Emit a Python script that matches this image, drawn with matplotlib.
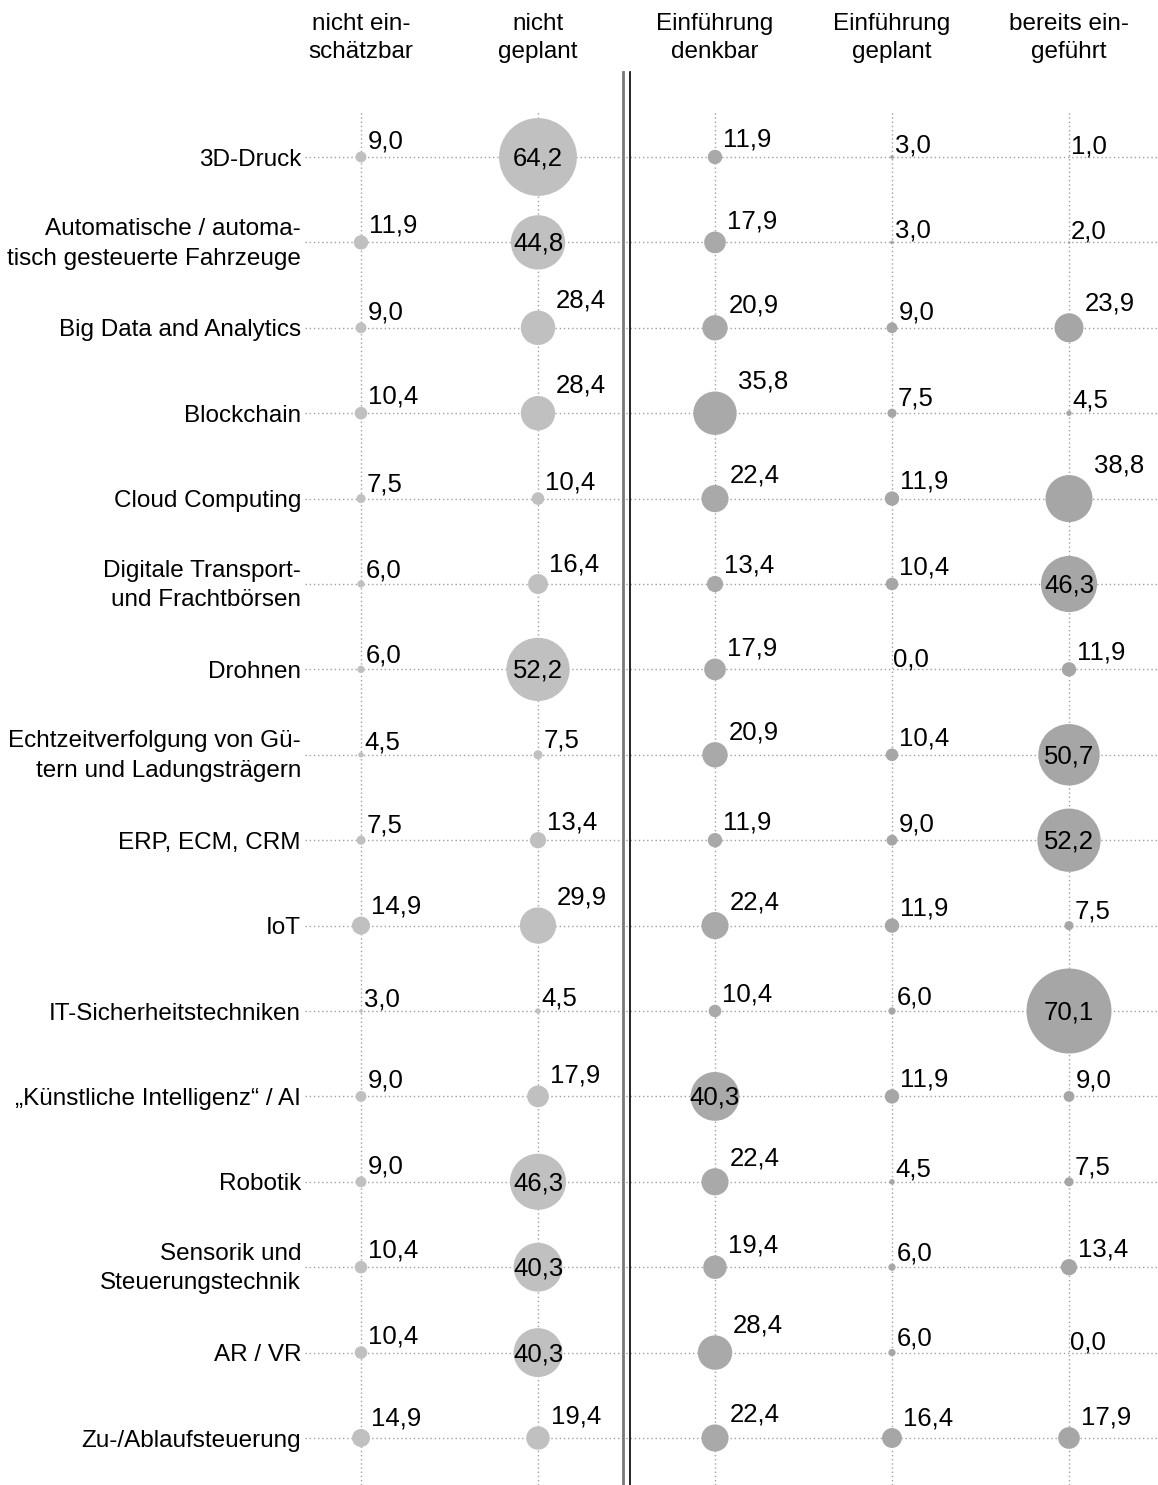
import numpy as np
import matplotlib.pyplot as plt
from matplotlib.transforms import ScaledTranslation

plt.rcParams['font.family'] = ['Liberation Sans', 'DejaVu Sans']

# --------------------------------------------------------------
# data
# --------------------------------------------------------------
columns = ["nicht ein-\nschätzbar", "nicht\ngeplant", "Einführung\ndenkbar",
           "Einführung\ngeplant", "bereits ein-\ngeführt"]

technologies = [
    "3D-Druck",
    "Automatische / automa-\ntisch gesteuerte Fahrzeuge",
    "Big Data and Analytics",
    "Blockchain",
    "Cloud Computing",
    "Digitale Transport-\nund Frachtbörsen",
    "Drohnen",
    "Echtzeitverfolgung von Gü-\ntern und Ladungsträgern",
    "ERP, ECM, CRM",
    "IoT",
    "IT-Sicherheitstechniken",
    "„Künstliche Intelligenz“ / AI",
    "Robotik",
    "Sensorik und\nSteuerungstechnik",
    "AR / VR",
    "Zu-/Ablaufsteuerung",
]

nicht_einschaetzbar = [9.0, 11.9, 9.0, 10.4, 7.5, 6.0, 6.0, 4.5, 7.5, 14.9, 3.0, 9.0, 9.0, 10.4, 10.4, 14.9]
nicht_geplant = [64.2, 44.8, 28.4, 28.4, 10.4, 16.4, 52.2, 7.5, 13.4, 29.9, 4.5, 17.9, 46.3, 40.3, 40.3, 19.4]
einfuehrung_denkbar = [11.9, 17.9, 20.9, 35.8, 22.4, 13.4, 17.9, 20.9, 11.9, 22.4, 10.4, 40.3, 22.4, 19.4, 28.4, 22.4]
einfuehrung_geplant = [3.0, 3.0, 9.0, 7.5, 11.9, 10.4, 0.0, 10.4, 9.0, 11.9, 6.0, 11.9, 4.5, 6.0, 6.0, 16.4]
bereits_eingefuehrt = [1.0, 2.0, 23.9, 4.5, 38.8, 46.3, 11.9, 50.7, 52.2, 7.5, 70.1, 9.0, 7.5, 13.4, 0.0, 17.9]

series = [nicht_einschaetzbar, nicht_geplant, einfuehrung_denkbar,
          einfuehrung_geplant, bereits_eingefuehrt]
colors = ["#c0c0c0", "#c0c0c0", "#a9a9a9", "#a6a6a6", "#a6a6a6"]

# --------------------------------------------------------------
# figure
# --------------------------------------------------------------
W, H = 1158, 1485
fig = plt.figure(figsize=(W / 100, H / 100), dpi=100)
ax = fig.add_axes([305 / W, 0, 1 - 305 / W, 1 - 110 / H])

px2pt = 0.72
r_scale = 0.606  # radius in px per percent

for j, vals in enumerate(series):
    vals = np.array(vals)
    rows = np.arange(len(vals))
    diam_pt = 2 * r_scale * vals * px2pt
    ax.scatter(np.full(len(vals), j), rows, s=diam_pt ** 2, color=colors[j],
               edgecolors="none", zorder=3)
    for i, v in enumerate(vals):
        lab = f"{v:.1f}".replace(".", ",")
        r_pt = r_scale * v * px2pt
        if v >= 40:
            ax.annotate(lab, (j, i), xytext=(0, -8.5 * px2pt), textcoords="offset points",
                        ha="center", va="baseline", fontsize=18.5, zorder=4)
        else:
            ax.annotate(lab, (j, i), xytext=(r_pt + 1 * px2pt, r_pt + 3 * px2pt),
                        textcoords="offset points", ha="left", va="baseline",
                        fontsize=18.5, zorder=4)

ax.set_xlim(-56 / 177, 797 / 177)
ax.set_ylim((1485 - 157) / 85.4, (110 - 157) / 85.4)

ax.set_xticks(range(len(columns)))
ax.set_xticklabels([])
ax.set_yticks(range(len(technologies)))
ax.set_yticklabels([])
ax.tick_params(length=0)

# row labels (drawn as text so two-line labels can be nudged up a bit)
ytrans = ax.get_yaxis_transform()
for i, name in enumerate(technologies):
    tr = ytrans
    if "\n" in name:
        tr = ytrans + ScaledTranslation(0, 5 / 100, fig.dpi_scale_trans)
    ax.text(-4 / 853, i, name, transform=tr, ha="right", va="center_baseline",
            fontsize=17.5, linespacing=1.45, clip_on=False)

ax.grid(True, linestyle=(0, (1, 2)), color="#a0a0a0", linewidth=1, zorder=0)
ax.set_axisbelow(True)
for sp in ax.spines.values():
    sp.set_visible(False)

# column headers
for j, c in enumerate(columns):
    ax.text(j, 1 + (110 - 38) / 1375, c, transform=ax.get_xaxis_transform(),
            ha="center", va="center", fontsize=17.5, linespacing=1.4, clip_on=False)

# double separator between "nicht geplant" and "Einführung denkbar"
top = 1 + (110 - 72) / 1375
ax.axvline((623 - 361) / 177, ymin=0, ymax=top, color="#7a7a7a", linewidth=2, clip_on=False)
ax.axvline((630 - 361) / 177, ymin=0, ymax=top, color="black", linewidth=1.2, clip_on=False)

fig.savefig("out.png", dpi=100)
